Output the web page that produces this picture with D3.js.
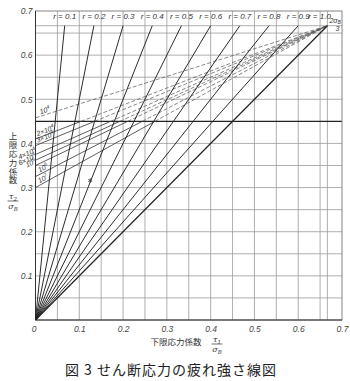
<!DOCTYPE html>
<html><head><meta charset="utf-8">
<script src="https://cdn.jsdelivr.net/npm/d3@7"></script>
<style>body{margin:0;background:#fff}</style>
</head><body>
<script>
// ---- data ----
const rValues = [0.1,0.2,0.3,0.4,0.5,0.6,0.7,0.8,0.9,1.0];
const rLabels = ["r = 0.1","r = 0.2","r = 0.3","r = 0.4","r = 0.5","r = 0.6","r = 0.7","r = 0.8","r = 0.9","r = 1.0"];
const cycleBase = ["10","2×10","3×10","4×10","6×10","10","10","10"];
const cycleExp  = ["4","4","4","4","4","5","6","7"];
const cycleIntercepts = [0.458,0.41,0.395,0.375,0.362,0.35,0.325,0.30];
const xTickValues = [0,0.1,0.2,0.3,0.4,0.5,0.6,0.7];
const yTickValues = [0.1,0.2,0.3,0.4,0.5,0.6,0.7];
const gridValues = [0.05,0.1,0.15,0.2,0.25,0.3,0.35,0.4,0.45,0.5,0.55,0.6,0.65,2/3];
const endValue = 2/3;
const yieldLevel = 0.45;
const markerPoints = [[0.125,0.316]];

// ---- label placement (layout only) ----
const cycleAnchor = ["start","start","start","end","end","end","start","start"];
const cycleDx = [5,2,2,1,1,1,4,4];

const W=350,H=381;
const svg=d3.select("body").append("svg").attr("width",W).attr("height",H);
const x=d3.scaleLinear([0,0.7],[35.5,342]);
const y=d3.scaleLinear([0,0.7],[320,11]);

// grid
const g=svg.append("g");
g.selectAll(".vg").data(gridValues).join("line")
 .attr("x1",d=>x(d)).attr("x2",d=>x(d)).attr("y1",y(0)).attr("y2",y(0.7))
 .attr("stroke","#9a9a9a").attr("stroke-width",0.8);
g.selectAll(".hg").data(gridValues).join("line")
 .attr("y1",d=>y(d)).attr("y2",d=>y(d)).attr("x1",x(0)).attr("x2",x(0.7))
 .attr("stroke",d=>d===yieldLevel?"#222":"#9a9a9a").attr("stroke-width",d=>d===yieldLevel?1.1:0.8);
// frame
svg.append("rect").attr("x",x(0)).attr("y",y(0.7)).attr("width",x(0.7)-x(0)).attr("height",y(0)-y(0.7))
 .attr("fill","none").attr("stroke","#777").attr("stroke-width",0.9);
svg.append("line").attr("x1",x(0)).attr("x2",x(0)).attr("y1",y(0)).attr("y2",y(0.7)).attr("stroke","#333").attr("stroke-width",1);
svg.append("line").attr("x1",x(0)).attr("x2",x(0.7)).attr("y1",y(0)).attr("y2",y(0)).attr("stroke","#333").attr("stroke-width",1);

// cycle lines: solid below yield level, dashed above
cycleIntercepts.forEach((c,i)=>{
  const slope=(endValue-c)/endValue;
  let xc = c>=yieldLevel?0:(yieldLevel-c)/slope;
  if(xc>0){
    svg.append("line").attr("x1",x(0)).attr("y1",y(c)).attr("x2",x(xc)).attr("y2",y(c+slope*xc))
      .attr("stroke","#333").attr("stroke-width",0.8);
  }
  svg.append("line").attr("x1",x(xc)).attr("y1",y(c+slope*xc)).attr("x2",x(endValue)).attr("y2",y(endValue))
    .attr("stroke","#555").attr("stroke-width",0.7).attr("stroke-dasharray","4,2");
  const ang=Math.atan2(y(endValue)-y(c),x(endValue)-x(0))*180/Math.PI;
  const px=x(0)+cycleDx[i];
  const py=y(c)+(y(endValue)-y(c))*(cycleDx[i]/(x(endValue)-x(0)))-2;
  const t=svg.append("text").attr("transform",`translate(${px},${py}) rotate(${ang})`)
    .attr("text-anchor",cycleAnchor[i]).attr("font-family","Liberation Sans Narrow, Liberation Sans, sans-serif")
    .attr("font-style","italic").attr("font-size",7).attr("fill","#333");
  t.append("tspan").text(cycleBase[i]);
  t.append("tspan").attr("dy",-3).attr("font-size",5).text(cycleExp[i]);
});

// r lines from origin
svg.selectAll(".rl").data(rValues).join("line")
 .attr("x1",x(0)).attr("y1",y(0)).attr("x2",d=>x(d*endValue)).attr("y2",y(endValue))
 .attr("stroke","#222").attr("stroke-width",d=>d===1?1.2:0.95);
svg.selectAll(".rt").data(rValues).join("text")
 .attr("x",(d,i)=>x(d*endValue)-(d===1?8:0)).attr("y",y(0.683))
 .attr("text-anchor","middle").attr("font-family","Liberation Sans Narrow, Liberation Sans, sans-serif")
 .attr("font-style","italic").attr("font-size",8).attr("fill","#333").text((d,i)=>rLabels[i]);

// 2σB/3 label
const e=svg.append("text").attr("x",x(endValue)+2).attr("y",y(endValue)-3)
 .attr("font-family","Liberation Sans Narrow, Liberation Sans, sans-serif").attr("font-style","italic")
 .attr("font-size",7).attr("fill","#333");
e.append("tspan").text("2σ");
e.append("tspan").attr("font-size",5).attr("dy",1.5).text("B");
svg.append("text").attr("x",x(endValue)+8).attr("y",y(endValue)+5)
 .attr("font-family","Liberation Sans Narrow, Liberation Sans, sans-serif").attr("font-style","italic")
 .attr("font-size",7).attr("fill","#333").text("3");

// marker
svg.selectAll(".mk").data(markerPoints).join("path")
 .attr("transform",d=>`translate(${x(d[0])},${y(d[1])})`)
 .attr("d",d3.symbol(d3.symbolAsterisk,14)).attr("stroke","#333").attr("stroke-width",0.8).attr("fill","none");

// axes
const fmt=d=>d===0?"0":d3.format(".1f")(d);
const ax=svg.append("g").attr("transform",`translate(0,${y(0)})`)
 .call(d3.axisBottom(x).tickValues(xTickValues).tickSize(0).tickPadding(6).tickFormat(fmt));
const ay=svg.append("g").attr("transform",`translate(${x(0)},0)`)
 .call(d3.axisLeft(y).tickValues(yTickValues).tickSize(0).tickPadding(3).tickFormat(fmt));
[ax,ay].forEach(a=>{a.select(".domain").remove();
 a.selectAll("text").attr("font-family","Liberation Sans Narrow, Liberation Sans, sans-serif")
  .attr("font-style","italic").attr("font-size",8.5).attr("fill","#444");});
ax.selectAll(".tick").filter(d=>d===0).select("text").attr("dx",-2);

// y title (vertical, single text)
svg.append("text").attr("x",13).attr("y",132)
 .style("writing-mode","vertical-rl").style("letter-spacing","0.3px")
 .attr("font-family","Noto Sans CJK JP").attr("font-size",8.5).attr("fill","#333").text("上限応力係数");
function frac(cx,cy,top,sub){
  const t1=svg.append("text").attr("x",cx).attr("y",cy-2).attr("text-anchor","middle")
   .attr("font-family","DejaVu Serif, serif").attr("font-style","italic").attr("font-size",8).attr("fill","#333");
  t1.append("tspan").text("τ"); t1.append("tspan").attr("font-size",5.5).attr("dy",1.5).text(top);
  svg.append("line").attr("x1",cx-5.5).attr("x2",cx+5.5).attr("y1",cy).attr("y2",cy).attr("stroke","#333").attr("stroke-width",0.7);
  const t2=svg.append("text").attr("x",cx).attr("y",cy+8).attr("text-anchor","middle")
   .attr("font-family","DejaVu Serif, serif").attr("font-style","italic").attr("font-size",8).attr("fill","#333");
  t2.append("tspan").text("σ"); t2.append("tspan").attr("font-size",5.5).attr("dy",1.5).text(sub);
}
frac(13,201,"2","B");
// x title
svg.append("text").attr("x",176).attr("y",345).attr("text-anchor","middle")
 .attr("font-family","Noto Sans CJK JP").attr("font-size",8.5).attr("fill","#333").text("下限応力係数");
frac(217,344,"1","B");
// caption
svg.append("text").attr("x",171).attr("y",375).attr("text-anchor","middle")
 .attr("font-family","Noto Sans CJK JP").attr("font-size",14).attr("letter-spacing",1).attr("fill","#222")
 .text("図 3 せん断応力の疲れ強さ線図");
</script>
</body></html>
